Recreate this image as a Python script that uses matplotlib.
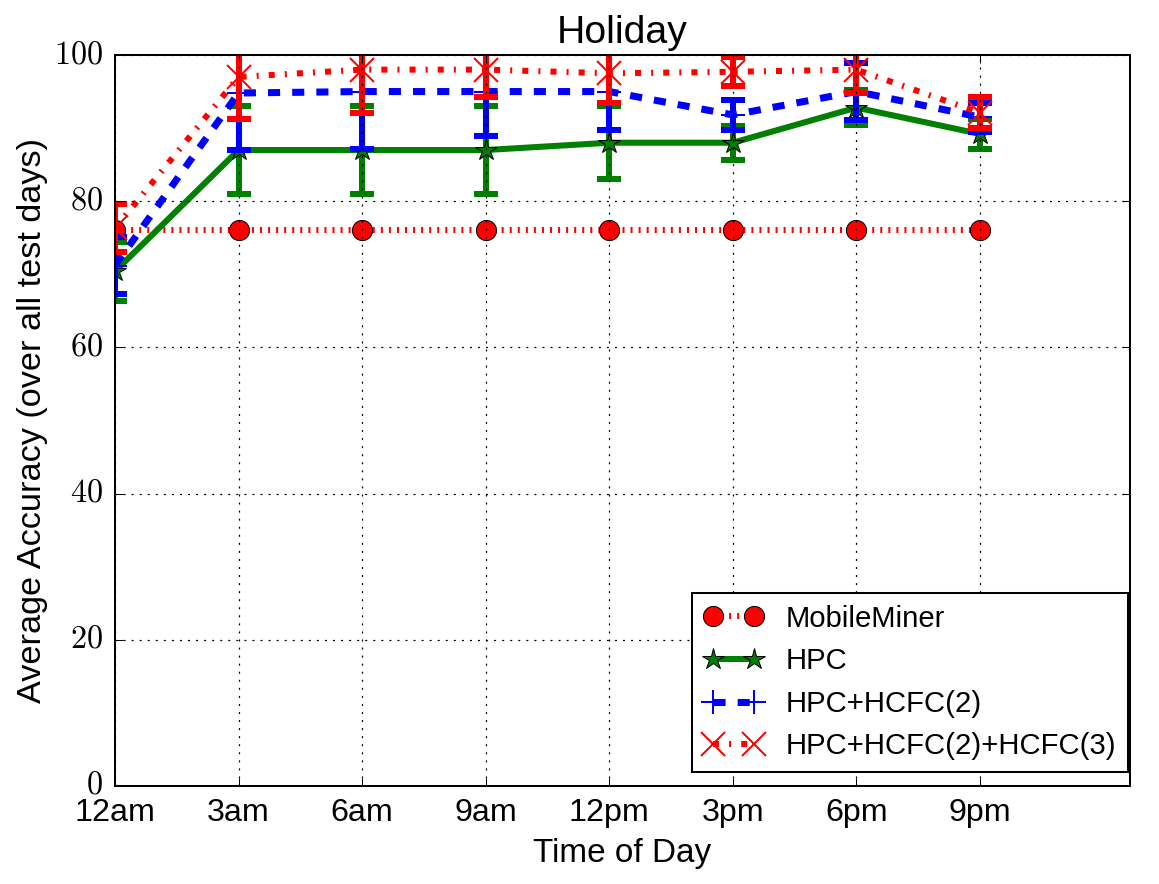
import matplotlib
matplotlib.use("Agg")
import matplotlib.pyplot as plt
from matplotlib.ticker import FixedLocator, FixedFormatter

plt.style.use("classic")
plt.rcParams["font.family"] = ["Liberation Sans", "DejaVu Sans"]
plt.rcParams["mathtext.fontset"] = "cm"

times = ["12am", "3am", "6am", "9am", "12pm", "3pm", "6pm", "9pm"]
mobileminer = [76, 76, 76, 76, 76, 76, 76, 76]
hpc = [70.4, 87.0, 87.0, 87.0, 88.0, 88.0, 92.8, 89.2]
hpc_err = [4.0, 6.0, 6.0, 6.0, 5.0, 2.3, 2.4, 2.1]
hcfc2 = [71.2, 94.8, 95.0, 95.0, 95.0, 91.8, 95.0, 91.5]
hcfc2_err = [3.9, 7.8, 7.8, 6.1, 5.3, 2.1, 3.9, 2.0]
hcfc3 = [76.3, 97.0, 98.0, 98.0, 97.5, 97.7, 98.0, 92.1]
hcfc3_err = [3.3, 5.8, 6.0, 3.8, 4.0, 2.0, 3.2, 2.1]
yticks = [0, 20, 40, 60, 80, 100]

x = list(range(len(times)))

fig = plt.figure(figsize=(1159 / 145, 884 / 145), dpi=145)
ax = fig.add_axes([115 / 1159, 1 - 786 / 884, (1130 - 115) / 1159, (786 - 55) / 884])

ax.plot(x, mobileminer, "ro:", lw=3, ms=10, label="MobileMiner")

ekw = dict(fmt="none", elinewidth=3, capsize=6, capthick=3)
ax.errorbar(x, hpc, yerr=hpc_err, ecolor="g", **ekw)
ax.plot(x, hpc, "g*-", lw=3, ms=11, label="HPC")
ax.errorbar(x, hcfc2, yerr=hcfc2_err, ecolor="b", **ekw)
ax.plot(x, hcfc2, "b+--", lw=3.5, ms=12, mew=1, label="HPC+HCFC(2)")
ax.errorbar(x, hcfc3, yerr=hcfc3_err, ecolor="r", **ekw)
ax.plot(x, hcfc3, "rx-.", lw=3, ms=12, mew=1, label="HPC+HCFC(2)+HCFC(3)")

ax.set_xlim(0, 8.214)
ax.set_ylim(0, 100)
ax.xaxis.set_major_locator(FixedLocator(x))
ax.xaxis.set_major_formatter(FixedFormatter(times))
ax.yaxis.set_major_locator(FixedLocator(yticks))
ax.yaxis.set_major_formatter(FixedFormatter(["$%d$" % v for v in yticks]))
ax.tick_params(axis="x", labelsize=16, pad=6)
ax.tick_params(axis="y", labelsize=16, pad=6)
ax.grid(True, color="black", linestyle=":", linewidth=0.6)

ax.set_title("Holiday", fontsize=19.5, pad=6)
ax.set_xlabel("Time of Day", fontsize=16.5)
ax.set_ylabel("Average Accuracy (over all test days)", fontsize=17, labelpad=3)

leg = ax.legend(loc="lower right", fontsize=14.5, numpoints=2, fancybox=False,
                bbox_to_anchor=(0.998, 0.019), borderaxespad=0)

fig.savefig("out.png", dpi=145)
